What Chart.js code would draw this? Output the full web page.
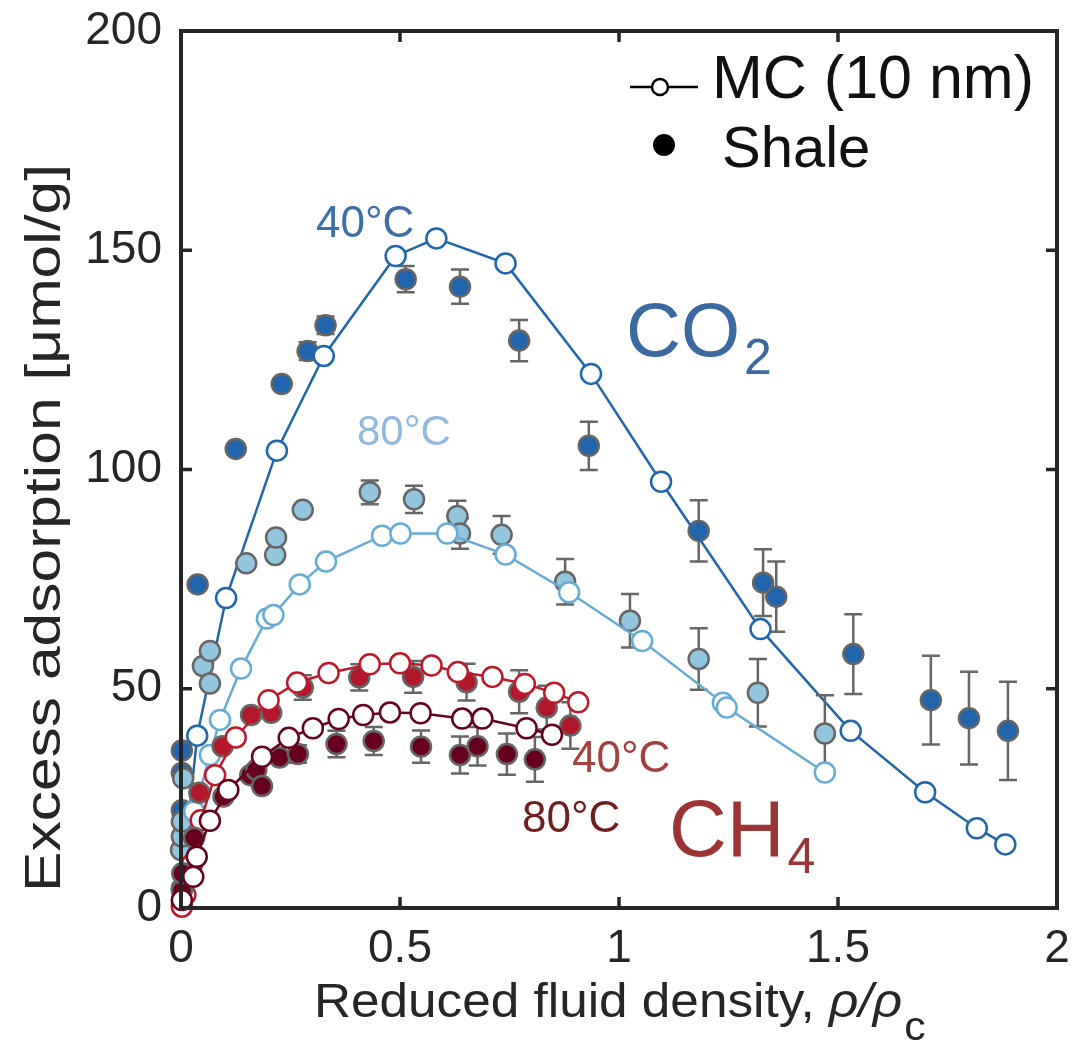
<!DOCTYPE html>
<html><head><meta charset="utf-8">
<script src="https://cdn.jsdelivr.net/npm/chart.js@4/dist/chart.umd.min.js"></script>
<style>html,body{margin:0;padding:0;background:#fff}#wrap{width:1086px;height:1049px;position:relative}</style>
</head><body><div id="wrap"><canvas id="c" width="1086" height="1049"></canvas></div>
<script>
// ---------- data ----------
const xTicks = [0, 0.5, 1, 1.5, 2];
const xTickLabels = ['0', '0.5', '1', '1.5', '2'];
const yTicks = [0, 50, 100, 150, 200];
const yTickLabels = ['0', '50', '100', '150', '200'];

const co2_40_mc_x = [0.003, 0.015, 0.037, 0.103, 0.219, 0.326, 0.490, 0.583, 0.741, 0.936, 1.096, 1.323, 1.529, 1.699, 1.817, 1.882];
const co2_40_mc_y = [2.0, 18.0, 39.3, 70.7, 104.3, 125.9, 148.7, 152.7, 147.0, 121.8, 97.2, 63.6, 40.4, 26.4, 18.2, 14.5];

const co2_40_sh_x = [0.002, 0.002, 0.002, 0.038, 0.125, 0.230, 0.289, 0.330, 0.513, 0.637, 0.772, 0.931, 1.182, 1.329, 1.359, 1.535, 1.712, 1.799, 1.888];
const co2_40_sh_y = [35.9, 30.8, 22.3, 73.8, 104.7, 119.5, 127.0, 132.9, 143.4, 141.7, 129.4, 105.4, 86.0, 74.2, 71.0, 57.9, 47.4, 43.3, 40.4];
const co2_40_sh_e = [0, 0, 0, 0, 0, 0, 2.0, 2.0, 3.0, 3.9, 4.7, 5.5, 7.0, 7.6, 8.0, 9.1, 10.1, 10.6, 11.2];

const co2_80_mc_x = [0.002, 0.010, 0.030, 0.066, 0.089, 0.137, 0.196, 0.211, 0.271, 0.331, 0.459, 0.501, 0.608, 0.741, 0.886, 1.053, 1.237, 1.246, 1.470];
const co2_80_mc_y = [1.0, 8.0, 22.0, 34.9, 42.9, 54.6, 66.0, 66.8, 73.8, 79.0, 84.9, 85.4, 85.4, 80.6, 72.0, 60.9, 46.8, 45.7, 30.9];

const co2_80_sh_x = [0.000, 0.002, 0.002, 0.005, 0.050, 0.066, 0.066, 0.149, 0.215, 0.217, 0.278, 0.431, 0.532, 0.631, 0.637, 0.732, 0.877, 1.025, 1.182, 1.317, 1.470];
const co2_80_sh_y = [13.2, 16.3, 19.7, 29.6, 55.2, 58.6, 51.2, 78.6, 80.5, 84.5, 90.8, 94.8, 93.2, 89.4, 85.4, 85.1, 74.4, 65.5, 56.8, 49.1, 39.8];
const co2_80_sh_e = [0, 0, 0, 0, 0, 0, 0, 0, 0, 0, 0, 2.7, 3.1, 3.5, 3.5, 4.3, 5.2, 6.1, 7.0, 7.7, 8.7];

const ch4_40_mc_x = [0.002, 0.010, 0.025, 0.045, 0.078, 0.125, 0.200, 0.265, 0.337, 0.431, 0.500, 0.572, 0.632, 0.711, 0.785, 0.852, 0.907];
const ch4_40_mc_y = [0.3, 3.0, 10.0, 20.0, 30.3, 38.9, 47.4, 51.4, 53.6, 55.6, 55.8, 55.3, 53.8, 52.7, 51.1, 49.1, 46.9];

const ch4_40_sh_x = [0.002, 0.042, 0.095, 0.160, 0.206, 0.278, 0.407, 0.530, 0.652, 0.772, 0.835, 0.889];
const ch4_40_sh_y = [4.5, 26.3, 36.9, 44.0, 44.5, 50.3, 52.6, 52.7, 51.5, 49.3, 45.7, 41.6];
const ch4_40_sh_e = [0, 0, 0, 0, 0, 2.8, 3.0, 3.6, 4.2, 4.9, 5.0, 5.3];

const ch4_80_mc_x = [0.002, 0.028, 0.036, 0.066, 0.108, 0.185, 0.246, 0.301, 0.360, 0.416, 0.477, 0.547, 0.642, 0.688, 0.789, 0.847];
const ch4_80_mc_y = [1.8, 7.1, 11.7, 19.9, 26.9, 34.5, 38.8, 41.0, 43.1, 44.0, 44.6, 44.4, 43.2, 43.2, 41.0, 39.5];

const ch4_80_sh_x = [0.002, 0.003, 0.030, 0.097, 0.158, 0.172, 0.185, 0.225, 0.267, 0.355, 0.440, 0.548, 0.637, 0.677, 0.744, 0.808];
const ch4_80_sh_y = [4.0, 7.9, 16.0, 25.4, 30.3, 31.5, 27.8, 34.3, 35.1, 37.4, 38.1, 36.8, 34.9, 36.9, 35.1, 33.9];
const ch4_80_sh_e = [0, 0, 0, 0, 0, 0, 0, 0, 2.0, 3.0, 3.2, 3.7, 4.2, 4.4, 4.7, 5.1];

// ---------- helpers ----------
const FONT = '"Liberation Sans", Arial, Helvetica, sans-serif';
function pts(xs, ys, es) { return xs.map((x, i) => ({ x: x, y: ys[i], e: es ? es[i] : 0 })); }

function mcSet(label, xs, ys, color, order) {
  return { label, data: pts(xs, ys), showLine: true, borderColor: color, borderWidth: 2.5,
    pointRadius: 10, pointBorderWidth: 2.5, pointBackgroundColor: '#ffffff', pointBorderColor: color,
    pointStyle: 'circle', clip: false, order, isMC: true };
}
function shSet(label, xs, ys, es, color, order) {
  return { label, data: pts(xs, ys, es), showLine: false, borderColor: '#666666',
    pointRadius: 10, pointBorderWidth: 2.5, pointBackgroundColor: color, pointBorderColor: '#666666',
    pointStyle: 'circle', clip: false, order, isShale: true };
}

const datasets = [
  mcSet('CO2 40°C MC', co2_40_mc_x, co2_40_mc_y, '#2166ac', 7),
  shSet('CO2 40°C shale', co2_40_sh_x, co2_40_sh_y, co2_40_sh_e, '#2166ac', 8),
  mcSet('CO2 80°C MC', co2_80_mc_x, co2_80_mc_y, '#67acd4', 5),
  shSet('CO2 80°C shale', co2_80_sh_x, co2_80_sh_y, co2_80_sh_e, '#92c5de', 6),
  mcSet('CH4 40°C MC', ch4_40_mc_x, ch4_40_mc_y, '#c0182b', 3),
  shSet('CH4 40°C shale', ch4_40_sh_x, ch4_40_sh_y, ch4_40_sh_e, '#b2182b', 4),
  mcSet('CH4 80°C MC', ch4_80_mc_x, ch4_80_mc_y, '#67001f', 1),
  shSet('CH4 80°C shale', ch4_80_sh_x, ch4_80_sh_y, ch4_80_sh_e, '#67001f', 2)
];

// error bars drawn just before each shale dataset
const errorBars = {
  id: 'errorBars',
  beforeDatasetDraw(chart, args) {
    const ds = chart.data.datasets[args.index];
    if (!ds.isShale) return;
    const ctx = chart.ctx, ys = chart.scales.y, meta = args.meta;
    ctx.save();
    ctx.strokeStyle = '#666666'; ctx.lineWidth = 2.5;
    ds.data.forEach((p, i) => {
      if (!p.e) return;
      const px = meta.data[i].x;
      const y1 = ys.getPixelForValue(p.y + p.e), y2 = ys.getPixelForValue(p.y - p.e);
      ctx.beginPath();
      ctx.moveTo(px, y1); ctx.lineTo(px, y2);
      ctx.moveTo(px - 9, y1); ctx.lineTo(px + 9, y1);
      ctx.moveTo(px - 9, y2); ctx.lineTo(px + 9, y2);
      ctx.stroke();
    });
    ctx.restore();
  }
};

// frame with inward ticks on all four sides
const frame = {
  id: 'frame',
  afterDatasetsDraw(chart) {
    const ctx = chart.ctx, a = chart.chartArea, xs = chart.scales.x, ys = chart.scales.y;
    ctx.save();
    ctx.strokeStyle = '#262626'; ctx.lineWidth = 3.5;
    ctx.beginPath();
    xTicks.forEach(v => { const p = xs.getPixelForValue(v);
      ctx.moveTo(p, a.bottom); ctx.lineTo(p, a.bottom - 11);
      ctx.moveTo(p, a.top); ctx.lineTo(p, a.top + 11); });
    yTicks.forEach(v => { const p = ys.getPixelForValue(v);
      ctx.moveTo(a.left, p); ctx.lineTo(a.left + 11, p);
      ctx.moveTo(a.right, p); ctx.lineTo(a.right - 11, p); });
    ctx.stroke();
    ctx.lineWidth = 4;
    ctx.strokeRect(a.left, a.top, a.right - a.left, a.bottom - a.top);
    ctx.restore();
  }
};

// texts: axis titles, annotations, legend
const texts = {
  id: 'texts',
  afterDraw(chart) {
    const ctx = chart.ctx;
    ctx.save();
    ctx.textBaseline = 'alphabetic';
    ctx.textAlign = 'left';
    // y title (stretched along its length to the reference span)
    ctx.save();
    ctx.translate(60, 528);
    ctx.rotate(-Math.PI / 2);
    ctx.fillStyle = '#262626';
    ctx.textAlign = 'center';
    ctx.font = '50px ' + FONT;
    const yt = 'Excess adsorption [\u03BCmol/g]';
    const yw = ctx.measureText(yt).width;
    ctx.scale(728 / yw, 1);
    ctx.fillText(yt, 0, 0);
    ctx.restore();
    // x title
    ctx.save();
    ctx.fillStyle = '#262626';
    ctx.translate(314, 1017);
    ctx.font = '48px ' + FONT;
    const t1 = 'Reduced fluid density, ';
    const w1 = ctx.measureText(t1).width;
    ctx.font = 'italic 48px ' + FONT;
    const w2 = ctx.measureText('\u03C1/\u03C1').width;
    ctx.scale(588 / (w1 + w2), 1);
    ctx.font = '48px ' + FONT;
    ctx.fillText(t1, 0, 0);
    ctx.font = 'italic 48px ' + FONT;
    ctx.fillText('\u03C1/\u03C1', w1, 0);
    ctx.font = '40px ' + FONT;
    ctx.fillText('c', w1 + w2 + 2, 23);
    ctx.restore();

    // annotations
    function txt(s, px, py, size, color) { ctx.font = size + 'px ' + FONT; ctx.fillStyle = color; ctx.fillText(s, px, py); return ctx.measureText(s).width; }
    txt('40\u00B0C', 316, 237, 44, '#3d6ea8');
    txt('80\u00B0C', 357, 445, 42, '#93b9de');
    let w = txt('CO', 626, 356, 76, '#3a6aa0');
    txt('2', 626 + w + 4, 374, 50, '#3a6aa0');
    txt('40\u00B0C', 572, 772, 44, '#a34040');
    txt('80\u00B0C', 522, 832, 44, '#6e1f1f');
    w = txt('CH', 669, 856, 80, '#9b3535');
    txt('4', 669 + w + 3, 873, 50, '#9b3535');

    // legend
    ctx.strokeStyle = '#000'; ctx.lineWidth = 2.5;
    ctx.beginPath(); ctx.moveTo(630, 87); ctx.lineTo(698, 87); ctx.stroke();
    ctx.beginPath(); ctx.arc(660, 87, 8, 0, Math.PI * 2); ctx.fillStyle = '#fff'; ctx.fill(); ctx.stroke();
    ctx.beginPath(); ctx.arc(664, 145, 11, 0, Math.PI * 2); ctx.fillStyle = '#000'; ctx.fill();
    txt('MC (10 nm)', 712, 98, 61, '#111');
    txt('Shale', 722, 167, 58, '#111');
    ctx.restore();
  }
};

new Chart(document.getElementById('c'), {
  type: 'scatter',
  data: { datasets },
  options: {
    responsive: false, animation: false, events: [],
    layout: { padding: { left: 0, top: 31, right: 29, bottom: 0 } },
    plugins: { legend: { display: false }, tooltip: { enabled: false } },
    scales: {
      x: {
        type: 'linear', min: 0, max: 2, position: 'bottom',
        afterBuildTicks: s => { s.ticks = xTicks.map(v => ({ value: v })); },
        afterFit: s => { s.height = 141; },
        grid: { display: false, drawTicks: false }, border: { display: false },
        ticks: { padding: 14, color: '#262626', font: { family: FONT, size: 46, lineHeight: 1.2 }, maxRotation: 0,
          callback: (v) => xTickLabels[xTicks.indexOf(v)] }
      },
      y: {
        type: 'linear', min: 0, max: 200,
        afterBuildTicks: s => { s.ticks = yTicks.map(v => ({ value: v })); },
        afterFit: s => { s.width = 181; s.paddingTop = 0; s.paddingBottom = 0; },
        grid: { display: false, drawTicks: false }, border: { display: false },
        ticks: { padding: 19, color: '#262626', font: { family: FONT, size: 46, lineHeight: 0.5 },
          callback: (v) => yTickLabels[yTicks.indexOf(v)] }
      }
    }
  },
  plugins: [errorBars, frame, texts]
});
</script>
</body></html>
